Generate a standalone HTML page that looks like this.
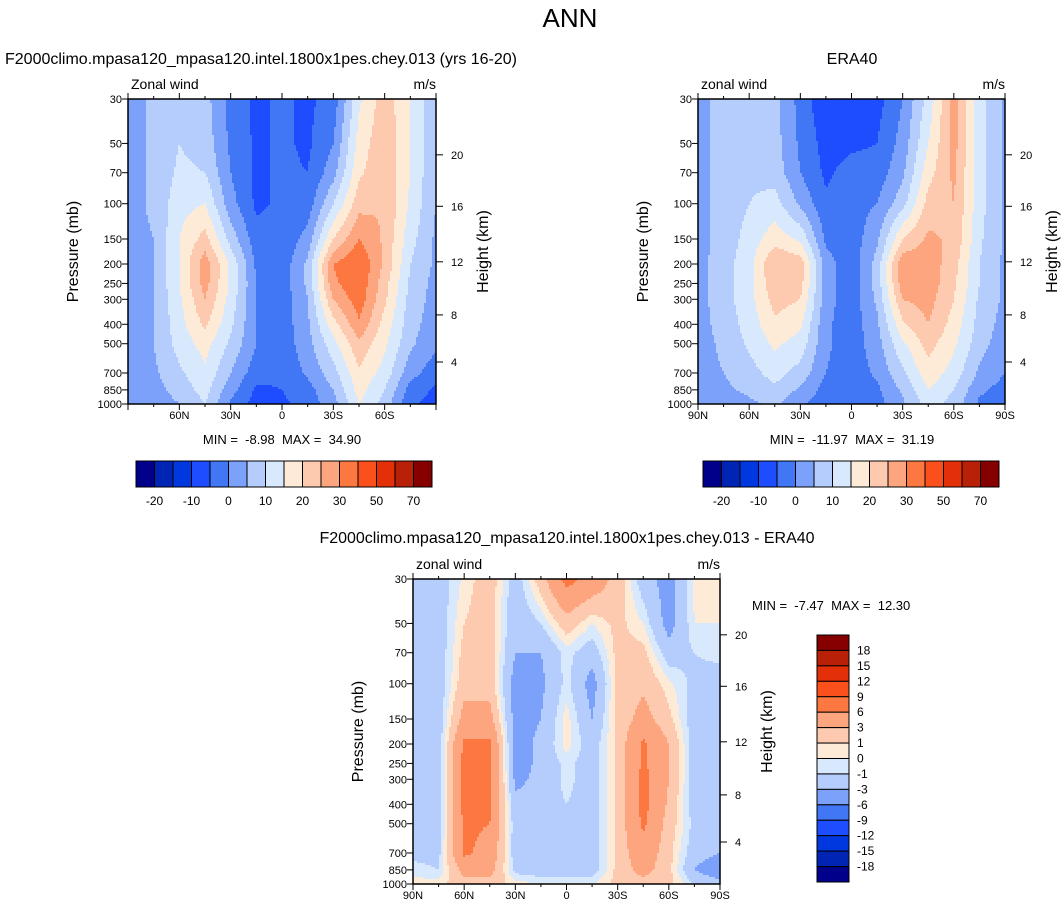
<!DOCTYPE html>
<html><head><meta charset="utf-8">
<style>
body{margin:0;background:#fff;}
svg{display:block;font-family:"Liberation Sans",Arial,sans-serif;}
text{white-space:pre;}
</style></head>
<body>
<svg id="chart" width="1063" height="914" viewBox="0 0 1063 914" xmlns="http://www.w3.org/2000/svg">
<rect x="0" y="0" width="1063" height="914" fill="#fff"/>
<text x="570" y="27" font-size="26" text-anchor="middle">ANN</text>
</svg>
<script>
const lats=[90,75,60,45,30,15,0,-15,-30,-45,-60,-75,-90];
const plevs=[30,50,70,100,150,200,250,300,400,500,700,850,1000];
const modelU=[
[3,6,8,7,-2,-6,-4,-6,-3,14,23,15,6],
[3,6,10,8,-1,-6,-4,-6,0,17,24,15,6],
[3,6,11,10,0,-6,-4,-5,3,19,24,15,5],
[3,6,13,15,2,-6,-4,-3,10,23,25,14,5],
[3,5,15,22,8,-3,-4,2,20,30,24,12,4],
[3,5,15,28,14,-1,-3,6,30,35,24,10,4],
[3,5,15,27,14,0,-3,6,29,34,22,9,3],
[3,5,14,25,13,0,-3,5,25,33,21,8,3],
[3,5,13,21,11,0,-3,4,18,29,18,7,2],
[2,5,12,17,9,0,-3,3,13,24,16,6,1],
[2,4,9,14,5,-3,-4,1,8,19,13,2,-3],
[2,3,7,12,2,-6,-5,-2,5,17,10,-2,-6],
[1,2,5,10,-1,-7,-6,-3,3,15,8,-4,-7]];
const eraU=[
[3,7,8,7,-2,-9,-8,-7,0,12,27,12,4],
[3,7,8,7,-1,-7,-6,-5,2,15,27,12,4],
[3,7,9,8,0,-6,-3,-3,4,18,26,12,4],
[3,7,10,12,4,-4,-2,0,8,22,25,12,4],
[3,7,12,18,14,-1,-3,4,20,26,24,11,4],
[3,8,13,25,23,2,-3,7,29,28,22,10,4],
[3,8,13,24,22,2,-3,7,28,28,21,10,4],
[3,8,13,22,20,2,-3,6,25,27,20,9,4],
[3,7,12,19,16,1,-3,4,19,25,18,8,3],
[3,6,11,16,13,1,-3,3,14,22,16,7,2],
[3,5,8,12,8,0,-3,1,9,18,13,4,0],
[2,4,6,9,4,-2,-3,-1,6,15,10,1,-2],
[1,2,4,6,1,-3,-3,-2,4,12,8,-1,-3]];
const diffU=[
[-1.5,-2,0.3,2,-2,2,7,5,2,-2,-4,0.3,0.5],
[-1.5,-2,1,2,-2.5,-1,2,0,1.5,0,-4,0,0],
[-2,-2,1.5,2,-3,-3,-0.5,-2,1.5,1.5,-2,-1,-0.5],
[-2,-2,2,2,-4,-3.5,-0.5,-4,1.5,2.5,0.3,-1.5,-2],
[-2,-2,4,4,-4,-3,0.5,-3,1.5,4,1.5,-2,-2],
[-2,-2,6.5,6.5,-4,-2.5,0.5,-2,1.5,6.5,3,-2,-2],
[-2,-2,7,6.5,-4,-2.5,-0.5,-2,1.5,6.5,3,-2,-2],
[-2,-2,7,6.5,-3.5,-2.5,-0.5,-2,1.5,7,3,-2,-2],
[-2,-2,7,6.5,-2.5,-2,-1,-2,1.5,7,2.5,-2,-2],
[-2,-2,6.5,6,-2,-2,-2,-2,1.5,6.5,2,-1.5,-2],
[-1.5,-1.5,6.5,5,-2,-2,-2,-2,1.5,5,1.5,-2,-3],
[-0.5,-1,4,4,-1.5,-2,-2,-2,1.5,4,1.5,-3,-5],
[0.5,0.5,2,2,0.5,0,0,0,1.5,2,1.5,-1,-2]];
const levelsMain=[-20,-15,-10,-5,0,5,10,15,20,25,30,40,50,60,70];
const levelsDiff=[-18,-15,-12,-9,-6,-3,-1,0,1,3,6,9,12,15,18];
const labelsMain=["-20","-10","0","10","20","30","50","70"];
const labelsDiff=["18","15","12","9","6","3","1","0","-1","-3","-6","-9","-12","-15","-18"];
const pTicks=[30,50,70,100,150,200,250,300,400,500,700,850,1000];
const hTickLabels=["4","8","12","16","20"];
const hTickP=[617,359,195,103,57];
const latTicks=[60,30,0,-30,-60];
const latTicksFull=[90,60,30,0,-30,-60,-90];
const palette=["#00008b","#0024b4","#0038e0","#1e4cff","#4176f5","#7ba1fa","#b5cdfc","#d8e9fe","#fdebd7","#fdcab0","#fca57f","#fc7840","#fc501c","#e43008","#b82008","#860000"];

const NS="http://www.w3.org/2000/svg";
const svg=document.getElementById('chart');
function mk(tag,attrs,parent){const e=document.createElementNS(NS,tag);for(const k in attrs)e.setAttribute(k,attrs[k]);(parent||svg).appendChild(e);return e;}
function txt(s,x,y,size,anchor,parent,rot){const t=mk('text',{x:x,y:y,'font-size':size,'text-anchor':anchor||'start'},parent);if(rot)t.setAttribute('transform','rotate(-90 '+x+' '+y+')');t.textContent=s;return t;}
const LP0=Math.log(30),LP1=Math.log(1000);
function yScale(p,y0,h){return y0+(Math.log(p)-LP0)/(LP1-LP0)*h;}
function xScale(lat,x0,w){return x0+(90-lat)/180*w;}
function sample(field,lat,lp){
  let fi=(90-lat)/15; let i=Math.min(11,Math.max(0,Math.floor(fi))); let tx=Math.min(1,Math.max(0,fi-i));
  let j=0; for(let k=0;k<plevs.length-1;k++){if(lp>=Math.log(plevs[k]))j=k;}
  let a=Math.log(plevs[j]),b=Math.log(plevs[j+1]); let ty=Math.min(1,Math.max(0,(lp-a)/(b-a)));
  const v00=field[j][i],v01=field[j][i+1],v10=field[j+1][i],v11=field[j+1][i+1];
  return (v00*(1-tx)+v01*tx)*(1-ty)+(v10*(1-tx)+v11*tx)*ty;
}
function bin(v,levels){let b=0;for(const l of levels){if(v>=l)b++;}return b;}
function drawField(g,x0,y0,w,h,field,levels){
  const st=2;
  for(let py=0;py<h;py+=st){
    const lp=LP0+((py+st/2)/h)*(LP1-LP0);
    const cols=[];
    for(let px=0;px<w;px+=st){const lat=90-((px+st/2)/w)*180;cols.push(bin(sample(field,lat,lp),levels));}
    let rs=0;
    for(let k=1;k<=cols.length;k++){
      if(k===cols.length||cols[k]!==cols[rs]){
        const xa=rs*st, xb=(k===cols.length)?w:k*st;
        const r=mk('rect',{x:x0+xa,y:y0+py,width:xb-xa+0.6,height:Math.min(st,h-py)+0.6,fill:palette[cols[rs]]},g);
        
        
        rs=k;
      }
    }
  }
}
function drawPanel(o){
  const g=mk('g',{});
  
  
  const x0=o.x,y0=o.y,w=o.w,h=o.h;
  const cp=mk('clipPath',{id:o.name+'-clip'},g);mk('rect',{x:x0,y:y0,width:w,height:h},cp);
  const fg=mk('g',{'clip-path':'url(#'+o.name+'-clip)'},g);
  
  
  drawField(fg,x0,y0,w,h,o.field,o.levels);
  const fr=mk('rect',{x:x0,y:y0,width:w,height:h,fill:'none',stroke:'#000','stroke-width':1.5},g);
  
  
  pTicks.forEach(p=>{const y=yScale(p,y0,h);mk('line',{x1:x0-6,y1:y,x2:x0,y2:y,stroke:'#000'},g);
    const t=txt(String(p),x0-6,y+4,11,'end',g);});
  hTickP.forEach((p,i)=>{const y=yScale(p,y0,h);mk('line',{x1:x0+w,y1:y,x2:x0+w+7,y2:y,stroke:'#000'},g);
    const t=txt(hTickLabels[i],x0+w+15,y+4,11,'start',g);});
  for(let lat=90;lat>=-90;lat-=15){const x=xScale(lat,x0,w);const L=(lat%30===0)?6:3;
    mk('line',{x1:x,y1:y0+h,x2:x,y2:y0+h+L,stroke:'#000'},g);mk('line',{x1:x,y1:y0,x2:x,y2:y0-L,stroke:'#000'},g);}
  (o.full?latTicksFull:latTicks).forEach(lat=>{const x=xScale(lat,x0,w);
    const s=lat===0?'0':(Math.abs(lat)+(lat>0?'N':'S'));
    const t=txt(s,x,y0+h+15,11,'middle',g);});
  let t=txt('Pressure (mb)',x0-50,y0+h/2,16,'middle',g,true);
  t=txt('Height (km)',x0+w+52,y0+h/2,16,'middle',g,true);
  t=txt(o.left,x0+3,y0-10,14,'start',g);
  t=txt('m/s',x0+w,y0-10,14,'end',g);
  t=txt(o.title,o.tx,o.ty,16,o.ta,g);
  t=txt(o.minmax,o.mx,o.my,13,o.ma,g);
}
function hColorbar(x0,y0,w,h,name){
  const g=mk('g',{});
  const bw=w/16;
  palette.forEach((c,i)=>{const r=mk('rect',{x:x0+i*bw,y:y0,width:bw,height:h,fill:c,stroke:'#000','stroke-width':1},g);
    });
  labelsMain.forEach((s,i)=>{const t=txt(s,x0+(1+2*i)*bw,y0+h+18,12,'middle',g);});
}
function vColorbar(x0,y0,w,h,name){
  const g=mk('g',{});
  const bh=h/16;
  palette.slice().reverse().forEach((c,i)=>{const r=mk('rect',{x:x0,y:y0+i*bh,width:w,height:bh,fill:c,stroke:'#000','stroke-width':1},g);
    });
  labelsDiff.forEach((s,i)=>{const t=txt(s,x0+w+8,y0+(i+1)*bh+4,12,'start',g);});
}
drawPanel({name:'model-panel',x:128,y:99,w:308,h:305,field:modelU,levels:levelsMain,full:false,left:'Zonal wind',
  title:'F2000climo.mpasa120_mpasa120.intel.1800x1pes.chey.013 (yrs 16-20)',tx:5,ty:64,ta:'start',
  minmax:'MIN =  -8.98  MAX =  34.90',mx:282,my:444,ma:'middle'});
drawPanel({name:'era40-panel',x:698,y:99,w:307,h:305,field:eraU,levels:levelsMain,full:true,left:'zonal wind',
  title:'ERA40',tx:852,ty:64,ta:'middle',minmax:'MIN =  -11.97  MAX =  31.19',mx:852,my:444,ma:'middle'});
drawPanel({name:'difference-panel',x:413,y:579,w:307,h:305,field:diffU,levels:levelsDiff,full:true,left:'zonal wind',
  title:'F2000climo.mpasa120_mpasa120.intel.1800x1pes.chey.013 - ERA40',tx:567,ty:543,ta:'middle',
  minmax:'MIN =  -7.47  MAX =  12.30',mx:752,my:610,ma:'start'});
hColorbar(136,461,296,26,'model-colorbar');
hColorbar(703,461,296,26,'era40-colorbar');
vColorbar(817,635,32,247,'difference-colorbar');
</script>
</body></html>
